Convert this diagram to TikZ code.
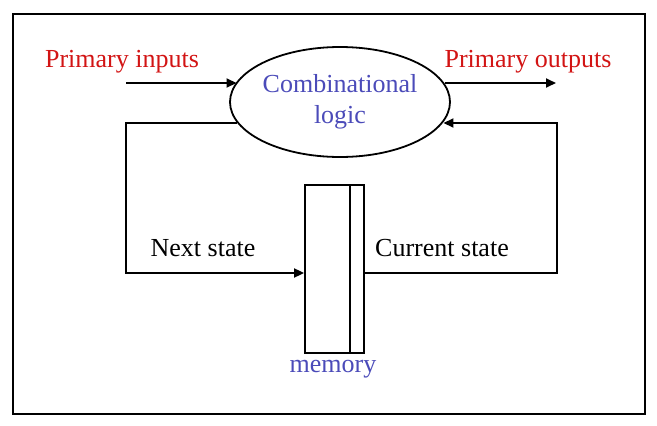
\documentclass[tikz,border=0pt]{standalone}
\usepackage{fontspec}
\setmainfont{Liberation Serif}
\usetikzlibrary{shapes.geometric,arrows.meta}
\definecolor{lblred}{RGB}{210,20,20}
\definecolor{lblblue}{RGB}{75,75,185}
\tikzset{
  wire/.style={line width=1.8pt},
  arr/.style={wire,-{Triangle[length=10pt,width=9pt]}},
  lbl/.style={font=\fontsize{26}{31}\selectfont, inner sep=0pt},
}
\begin{document}
\begin{tikzpicture}[x=1pt,y=-1pt]
\useasboundingbox (0,0) rectangle (657,426);
\draw[line width=2.5pt] (13,14) rectangle (645,414);
\node[ellipse, draw, line width=1.8pt, minimum width=220pt, minimum height=110pt, inner sep=0pt,
      lbl, text=lblblue, align=center] (cl) at (340,102) {Combinational\\logic};
\node[draw, line width=1.8pt, minimum width=59pt, minimum height=168pt, inner sep=0pt] (mem) at (334.5,269) {};
\draw[wire] ([xshift=15.5pt]mem.north) -- ([xshift=15.5pt]mem.south);
\node[lbl, text=lblred] (pin) at (122,62) {Primary inputs};
\node[lbl, text=lblred] (pout) at (528,62) {Primary outputs};
\node[lbl] (ns) at (203,248) {Next state};
\node[lbl] (cs) at (442,248) {Current state};
\node[lbl, text=lblblue] (memlbl) at (333,369) {memory};
\coordinate (inS) at (126,83);
\coordinate (outE) at (556,83);
\coordinate (lc1) at (126,123);
\coordinate (lc2) at (126,273);
\coordinate (rc1) at (557,273);
\coordinate (rc2) at (557,123);
\draw[arr] (inS) -- (cl.169.5 |- inS);
\draw[wire,-{Triangle[length=10pt,width=9pt]}] (cl.10.5 |- outE) -- (outE);
\draw[arr] (cl.191.6 |- lc1) -- (lc1) -- (lc2) -- (mem.west |- lc2);
\draw[arr] (mem.east |- rc1) -- (rc1) -- (rc2) -- (cl.-11.6 |- rc2);
\end{tikzpicture}
\end{document}
